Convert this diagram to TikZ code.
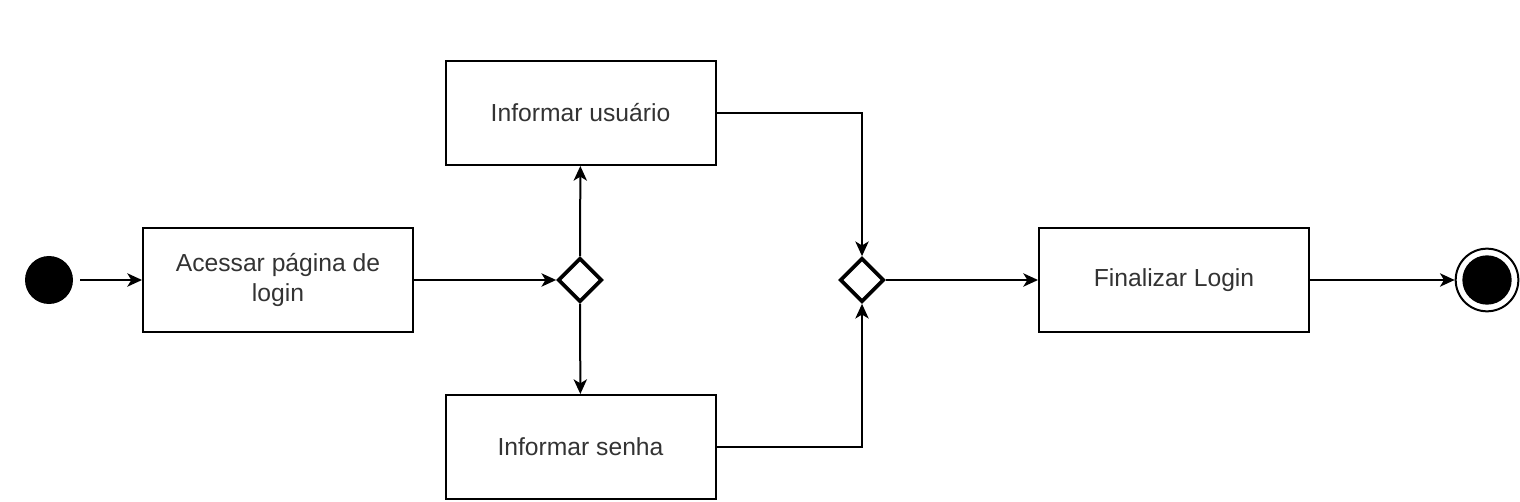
\documentclass[tikz,border=0pt]{standalone}
\usepackage{fontspec}
\setmainfont{Liberation Sans}
\usetikzlibrary{arrows.meta,shapes.geometric}
\tikzset{every picture/.style={line width=0.75pt}}

\begin{document}
\begin{tikzpicture}[x=0.75pt,y=0.75pt,yscale=-1,xscale=1,
  activity/.style={draw,line width=1.5pt,minimum width=202.5pt,minimum height=78pt,inner sep=0.75pt,align=center,text=black!80,font=\fontsize{18.5}{22}\selectfont},
  decision/.style={draw,diamond,line width=2.8pt,minimum width=33pt,minimum height=33pt,inner sep=0pt},
  flow/.style={line width=1.5pt,-{Stealth[length=11pt,width=10pt,inset=3pt]}}]
\useasboundingbox (0,0) rectangle (1520,502);

%Start
\node (start) [circle,fill=black,minimum size=36pt,inner sep=0pt] at (49,280) {};
%Activities
\node (acessar) [activity] at (278,280) {Acessar página de\\login};
\node (usuario) [activity] at (580.5,113) {Informar usuário};
\node (senha) [activity] at (580.5,447) {Informar senha};
\node (finalizar) [activity] at (1174,280) {Finalizar Login};
%Decisions
\node (fork) [decision] at (580,280) {};
\node (join) [decision] at (862,280) {};
%End
\node (fim) [circle,draw,line width=1.5pt,minimum size=47pt,inner sep=0pt] at (1487,280) {};
\node (fimdot) [circle,fill=black,minimum size=37pt,inner sep=0pt] at (fim.center) {};

%Connectors
\draw [flow,shorten <=5pt] (start) -- (acessar);
\draw [flow] (acessar) -- (fork);
\draw [flow] (fork) -- (usuario);
\draw [flow] (fork) -- (senha);
\draw [flow] (usuario.east) -| (join.north);
\draw [flow] (senha.east) -| (join.south);
\draw [flow] (join) -- (finalizar);
\draw [flow] (finalizar) -- (fim);

\end{tikzpicture}
\end{document}
